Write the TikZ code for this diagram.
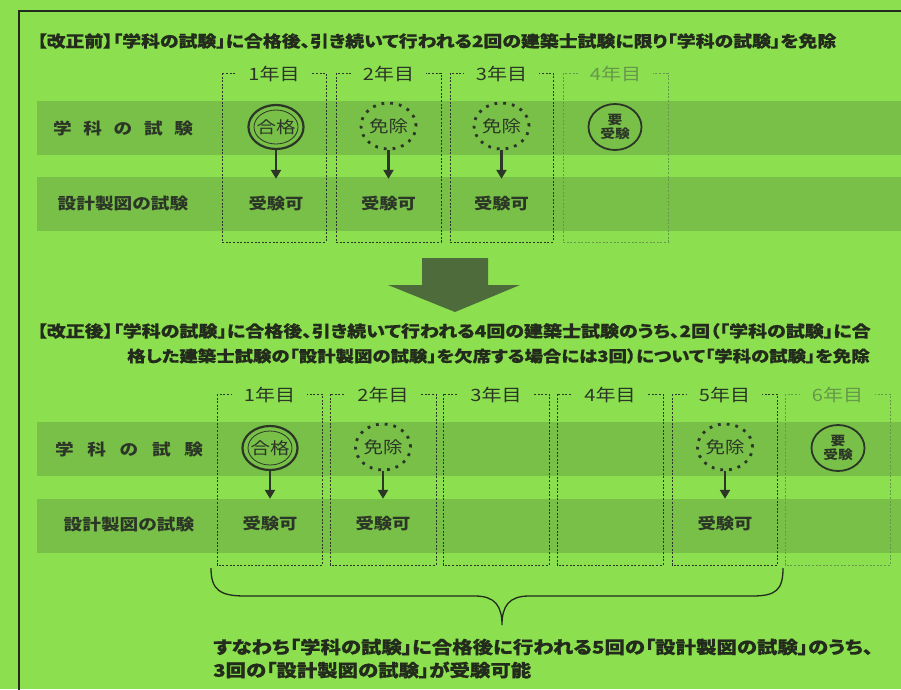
\documentclass[tikz,border=0pt]{standalone}
\usepackage{fontspec}
\setmainfont{Noto Sans CJK JP}[FakeStretch=1.18]
\newfontfamily\paltfam{Noto Sans CJK JP}[FakeStretch=1.18, RawFeature=+palt, BoldFeatures={FakeBold=0.6}]
\usetikzlibrary{arrows.meta,shapes.geometric}
\definecolor{bg}{HTML}{8CE050}
\definecolor{band}{HTML}{78C048}
\definecolor{ink}{HTML}{2C3627}
\definecolor{dark}{HTML}{222B1C}
\definecolor{faded}{HTML}{66984A}
\definecolor{bigarrow}{HTML}{4D6B3B}
\newcommand\ttlfont{\paltfam\bfseries\fontsize{16}{18}\selectfont}
\newcommand\sumfont{\paltfam\bfseries\fontsize{17.3}{19}\selectfont}
\tikzset{
  colbox/.style={draw=ink, line width=0.7pt, dash pattern=on 2pt off 1.6pt},
  fadedbox/.style={colbox, draw=faded},
  yearlab/.style={fill=bg, inner xsep=12pt, inner ysep=1pt, text=ink, font=\fontsize{17}{19}\selectfont},
  fadedlab/.style={yearlab, text=faded},
  rowlab/.style={text=ink, font=\bfseries\fontsize{15.8}{18}\selectfont, inner sep=0pt},
  title/.style={anchor=west, text=dark, font=\ttlfont, inner sep=0pt},
  summary/.style={anchor=west, text=dark, font=\sumfont, inner sep=0pt},
  passc/.style={ellipse, draw=ink, line width=2.2pt, minimum width=53pt, minimum height=44pt, inner sep=0pt, text=ink, font=\fontsize{16.5}{18}\selectfont},
  exemptc/.style={ellipse, draw=ink, line width=2.8pt, dash pattern=on 2.8pt off 6pt, minimum width=53pt, minimum height=46pt, inner sep=0pt, text=ink, font=\fontsize{16.5}{18}\selectfont},
  needc/.style={ellipse, draw=ink, line width=1.8pt, minimum width=53pt, minimum height=46pt, inner sep=0pt, text=ink, align=center, font=\bfseries\fontsize{12.5}{14}\selectfont},
  okcell/.style={minimum height=50pt, inner sep=0pt, text=ink, font=\bfseries\fontsize{15.5}{18}\selectfont},
  downarrow/.style={draw=ink, line width=2.2pt, -{Triangle[width=10pt,length=9pt]}},
  bandfill/.style={fill=band}
}
\begin{document}
\begin{tikzpicture}[x=1pt,y=-1pt]
\useasboundingbox (0,0) rectangle (901,689);
\clip (0,0) rectangle (901,689);
\fill[bg] (0,0) rectangle (901,689);
\draw[dark, line width=1.3pt] (19,700) -- (19,11) -- (910,11);

% ---------- before revision ----------
\node[title] (t1) at (37,41) {【改正前】「学科の試験」に合格後、引き続いて行われる2回の建築士試験に限り「学科の試験」を免除};

\fill[bandfill] (37,101) rectangle (905,155);
\fill[bandfill] (37,177) rectangle (905,231);

\draw[colbox] (222,73) rectangle (326,242);
\draw[colbox] (336,73) rectangle (441,242);
\draw[colbox] (450,73) rectangle (553,242);
\draw[fadedbox] (563,73) rectangle (668,242);
\node[yearlab] (ya1) at (274,74) {1年目};
\node[yearlab] (ya2) at (388.5,74) {2年目};
\node[yearlab] (ya3) at (501.5,74) {3年目};
\node[fadedlab] (ya4) at (615.5,74) {4年目};

\node[rowlab] (ra1) at (123,128) {\makebox[140pt][s]{学\hfill 科\hfill の\hfill 試\hfill 験}};
\node[rowlab] (ra2) at (123,204) {設計製図の試験};

\node[passc] (pa1) at (276,127) {合格};
\draw[ink, line width=0.8pt] (pa1.center) ellipse (22pt and 17pt);
\node[exemptc] (ea2) at (388.5,126) {免除};
\node[exemptc] (ea3) at (501.5,126) {免除};
\node[needc] (na4) at (615,127) {要\\受験};

\node[okcell] (ja1) at (276,204) {受験可};
\node[okcell] (ja2) at (388.5,204) {受験可};
\node[okcell] (ja3) at (501.5,204) {受験可};
\draw[downarrow] (pa1.south) -- (ja1.north);
\draw[downarrow] (ea2.south) -- (ja2.north);
\draw[downarrow] (ea3.south) -- (ja3.north);

% big arrow
\fill[bigarrow] (422,258) -- (488,258) -- (488,285) -- (520,285) -- (455,312) -- (388,285) -- (422,285) -- cycle;

% ---------- after revision ----------
\node[title, font=\paltfam\bfseries\fontsize{16.1}{18}\selectfont] (t2) at (37,331) {【改正後】「学科の試験」に合格後、引き続いて行われる4回の建築士試験のうち、2回（「学科の試験」に合};
\node[title, font=\paltfam\bfseries\fontsize{15.6}{18}\selectfont] (t3) at (127,356) {格した建築士試験の「設計製図の試験」を欠席する場合には3回）について「学科の試験」を免除};

\fill[bandfill] (37,422) rectangle (905,476);
\fill[bandfill] (37,499) rectangle (905,553);

\draw[colbox] (217,394) rectangle (322,565);
\draw[colbox] (330,394) rectangle (436,565);
\draw[colbox] (443,394) rectangle (549,565);
\draw[colbox] (557,394) rectangle (663,565);
\draw[colbox] (672,394) rectangle (777,565);
\draw[fadedbox] (785,394) rectangle (890,565);
\node[yearlab] (yb1) at (269.5,395) {1年目};
\node[yearlab] (yb2) at (383,395) {2年目};
\node[yearlab] (yb3) at (496,395) {3年目};
\node[yearlab] (yb4) at (610,395) {4年目};
\node[yearlab] (yb5) at (724.5,395) {5年目};
\node[fadedlab] (yb6) at (837.5,395) {6年目};

\node[rowlab] (rb1) at (129,449) {\makebox[148pt][s]{学\hfill 科\hfill の\hfill 試\hfill 験}};
\node[rowlab] (rb2) at (129,525) {設計製図の試験};

\node[passc] (pb1) at (270,448) {合格};
\draw[ink, line width=0.8pt] (pb1.center) ellipse (22pt and 17pt);
\node[exemptc] (eb2) at (383,447) {免除};
\node[exemptc] (eb5) at (725,447) {免除};
\node[needc] (nb6) at (838,448) {要\\受験};

\node[okcell] (jb1) at (270,524) {受験可};
\node[okcell] (jb2) at (383,524) {受験可};
\node[okcell] (jb5) at (725,524) {受験可};
\draw[downarrow] (pb1.south) -- (jb1.north);
\draw[downarrow] (eb2.south) -- (jb2.north);
\draw[downarrow] (eb5.south) -- (jb5.north);

% brace
\coordinate (bl) at (211,568);
\coordinate (bt) at (502,625);
\coordinate (br) at (783,568);
\draw[dark, line width=1.3pt] (bl) .. controls (211,590) and (220,596) .. (245,596) -- (475,596) .. controls (495,596) and (502,606) .. (bt) .. controls (502,606) and (509,596) .. (529,596) -- (752,596) .. controls (776,596) and (783,590) .. (br);

\node[summary] (s1) at (213,647) {すなわち「学科の試験」に合格後に行われる5回の「設計製図の試験」のうち、};
\node[summary] (s2) at (213,670) {3回の「設計製図の試験」が受験可能};
\end{tikzpicture}
\end{document}
